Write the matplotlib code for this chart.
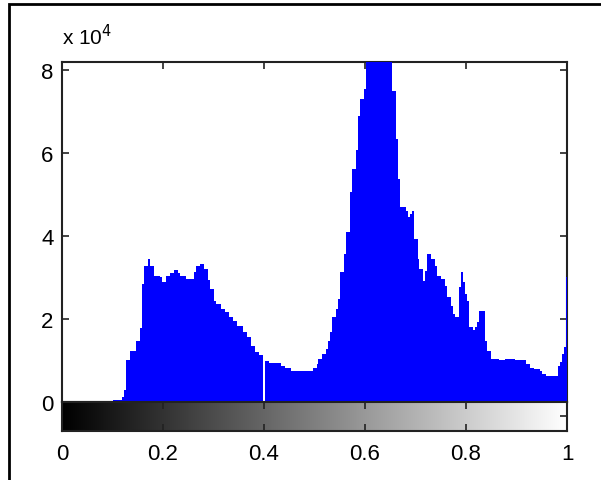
import numpy as np
import matplotlib.pyplot as plt
from matplotlib.patches import Rectangle

plt.rcParams['font.family'] = ['Liberation Sans', 'DejaVu Sans']

# histogram counts (x 1e4) for the 256 gray levels
counts_e4 = [
    0, 0, 0, 0, 0, 0, 0, 0, 0, 0, 0, 0, 0, 0, 0, 0,
    0, 0, 0, 0, 0, 0, 0, 0, 0, 0, 0.05, 0.05, 0.05, 0.05, 0.05, 0.12,
    0.3, 1.0, 1.0, 1.24, 1.24, 1.24, 1.48, 1.48, 1.78, 2.84, 3.28, 3.28, 3.45, 3.28, 3.28, 3.03,
    3.03, 3.03, 3.0, 2.9, 2.9, 3.04, 3.04, 3.1, 3.1, 3.19, 3.19, 3.1, 3.04, 3.04, 3.04, 2.96,
    2.96, 2.96, 2.96, 3.12, 3.28, 3.28, 3.32, 3.32, 3.2, 3.2, 2.93, 2.72, 2.72, 2.44, 2.36, 2.36,
    2.36, 2.24, 2.24, 2.17, 2.17, 2.05, 2.05, 1.96, 1.96, 1.84, 1.84, 1.84, 1.69, 1.69, 1.57, 1.57,
    1.36, 1.36, 1.2, 1.2, 1.12, 1.12, 0, 0.99, 0.99, 0.94, 0.94, 0.94, 0.94, 0.94, 0.94, 0.87,
    0.87, 0.81, 0.81, 0.81, 0.75, 0.75, 0.75, 0.75, 0.75, 0.75, 0.75, 0.75, 0.75, 0.75, 0.75, 0.81,
    0.81, 0.92, 1.04, 1.04, 1.16, 1.16, 1.28, 1.48, 1.68, 2.04, 2.04, 2.24, 2.48, 3.12, 3.12, 3.57,
    4.09, 4.09, 5.05, 5.61, 5.61, 6.06, 6.9, 7.3, 7.3, 7.54, 8.4, 8.8, 9.2, 9.6, 10.0, 10.3,
    10.5, 10.3, 10.0, 9.6, 9.2, 8.8, 8.4, 7.5, 7.5, 6.34, 5.37, 4.69, 4.69, 4.69, 4.61, 4.45,
    4.53, 4.61, 3.93, 3.93, 3.45, 3.2, 3.2, 2.92, 3.16, 3.57, 3.57, 3.45, 3.45, 3.28, 3.04, 3.04,
    2.96, 2.96, 2.8, 2.52, 2.52, 2.32, 2.12, 2.04, 2.04, 2.76, 3.12, 2.88, 2.6, 2.44, 1.8, 1.8,
    1.74, 1.8, 1.92, 2.2, 2.2, 2.2, 1.48, 1.24, 1.24, 1.04, 1.04, 1.04, 1.04, 1.0, 1.0, 1.0,
    1.04, 1.04, 1.04, 1.04, 1.04, 1.0, 1.0, 1.0, 1.0, 1.0, 1.0, 0.92, 0.92, 0.81, 0.81, 0.79,
    0.79, 0.79, 0.75, 0.67, 0.67, 0.62, 0.62, 0.62, 0.62, 0.62, 0.62, 0.87, 0.96, 1.16, 1.32, 3.0,
]
y_ticks = [0, 2, 4, 6, 8]
x_ticks = [0, 0.2, 0.4, 0.6, 0.8, 1]
x_labels = ['0', '0.2', '0.4', '0.6', '0.8', '1']

counts = np.array(counts_e4) * 1e4
n = len(counts)
levels = np.linspace(0, 1, n)
edges = np.linspace(-0.5 / (n - 1), 1 + 0.5 / (n - 1), n + 1)

fig = plt.figure(figsize=(6.01, 4.81), dpi=100)

# outer frame
fig.patches.append(Rectangle((9 / 601, -0.1), 1.2, 1 - 5 / 481 + 0.1,
                             transform=fig.transFigure, fill=False,
                             edgecolor='black', linewidth=2))

ax = fig.add_axes([0.1032, 0.1622, 0.8403, 0.7069])
ax.stairs(counts, edges, fill=True, color='#0000ff', linewidth=0, zorder=3)
ax.set_xlim(0, 1)
ax.set_ylim(0, 8.19e4)
ax.set_yticks([v * 1e4 for v in y_ticks])
ax.set_yticklabels([str(v) for v in y_ticks])
ax.set_xticks(x_ticks)
ax.tick_params(axis='both', direction='in', length=5, width=1.2, color='#222222',
               top=True, right=True, bottom=False, labelbottom=False,
               labelsize=16, pad=6)
for s in ax.spines.values():
    s.set_linewidth(1.5)
    s.set_color('#222222')
ax.text(0.0, 1.04, r'x 10$^{4}$', transform=ax.transAxes, fontsize=15,
        ha='left', va='bottom')

cax = fig.add_axes([0.1032, 0.1019, 0.8403, 0.0603])
cax.imshow(levels[np.newaxis, :], cmap='gray', aspect='auto',
           extent=[0, 1, 0, 1], vmin=0, vmax=1)
cax.set_xlim(0, 1)
cax.set_ylim(0, 1)
cax.set_xticks(x_ticks)
cax.set_xticklabels(x_labels)
cax.set_yticks([0.5])
cax.tick_params(axis='x', direction='in', length=5, width=1.2, color='#222222',
                top=True, labelsize=16, pad=9)
cax.tick_params(axis='y', direction='in', length=5, width=1.2, color='#222222',
                left=False, right=True, labelleft=False)
for s in cax.spines.values():
    s.set_linewidth(1.5)
    s.set_color('#222222')

fig.savefig('out.png', dpi=100)
